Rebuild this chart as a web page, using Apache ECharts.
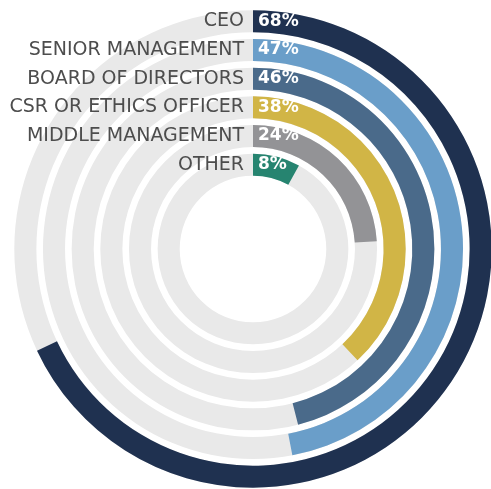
<!DOCTYPE html>
<html><head><meta charset="utf-8">
<script src="https://cdn.jsdelivr.net/npm/echarts@6/dist/echarts.min.js"></script>
<style>html,body{margin:0;padding:0;background:#fff}#c{width:491px;height:489px}</style>
</head><body><div id="c"></div>
<script>
// inner -> outer
const categories = ['OTHER','MIDDLE MANAGEMENT','CSR OR ETHICS OFFICER','BOARD OF DIRECTORS','SENIOR MANAGEMENT','CEO'];
const values = [8, 24, 38, 46, 47, 68];
const colors = ['#268470','#939396','#d1b546','#4a6a8a','#6a9ec9','#1f3150'];

const chart = echarts.init(document.getElementById('c'));
chart.setOption({
  animation: false,
  polar: { center: [253, 249], radius: [70, 242] },
  angleAxis: { type: 'value', min: 0, max: 100, startAngle: 90, clockwise: true,
    show: false },
  radiusAxis: { type: 'category', data: categories, z: 10,
    axisLine: { show: false }, axisTick: { show: false }, splitLine: { show: false },
    axisLabel: { show: true, interval: 0, hideOverlap: false, color: '#4d4d4d',
      fontFamily: 'DejaVu Sans', fontSize: 19, margin: 9 } },
  series: [{
    type: 'bar', coordinateSystem: 'polar', barCategoryGap: '23%',
    data: values.map((v, i) => ({ value: v, itemStyle: { color: colors[i] } })),
    showBackground: true, backgroundStyle: { color: '#e9e9e9' },
    label: { show: true, position: 'insideStart', formatter: '{c}%', color: '#fff',
      fontFamily: 'DejaVu Sans', fontWeight: 'bold', fontSize: 17 }
  }]
});
</script></body></html>
